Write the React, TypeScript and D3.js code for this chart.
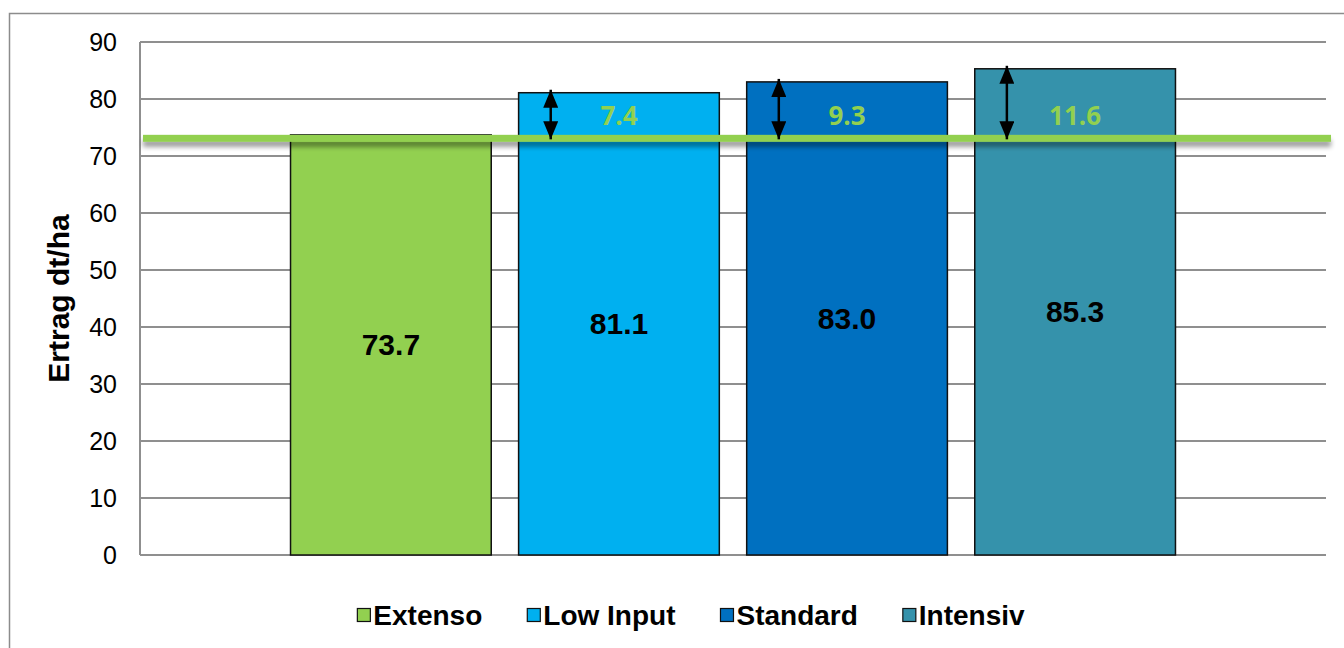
import { useEffect, useRef } from 'react';
import * as d3 from 'd3';

// series shown as bars (one category)
const seriesNames = ['Extenso', 'Low Input', 'Standard', 'Intensiv'];
const yieldValues = [73.7, 81.1, 83.0, 85.3];
const seriesColors = ['#92D050', '#00B0F0', '#0070C0', '#3592AB'];
// gain over Extenso, shown with arrows (null = no arrow)
const gainLabels = [null, '7.4', '9.3', '11.6'];
const referenceLevel = 73.1;
const yTicks = [0, 10, 20, 30, 40, 50, 60, 70, 80, 90];
const yTitle = 'Ertrag dt/ha';

const WIDTH = 1344;
const HEIGHT = 648;
const FONT = "'Liberation Sans', Arial, sans-serif";

export default function App() {
  const svgRef = useRef<SVGSVGElement>(null);

  useEffect(() => {
    if (!svgRef.current) return;
    const svg = d3.select(svgRef.current);
    svg.selectAll('*').remove();

    const plot = { left: 140, right: 1326, top: 42, bottom: 555 };

    const defs = svg.append('defs');
    const shadow = defs.append('filter').attr('id', 'lineShadow')
      .attr('x', '-2%').attr('y', '-100%').attr('width', '104%').attr('height', '400%');
    shadow.append('feGaussianBlur').attr('in', 'SourceAlpha').attr('stdDeviation', 2.5);
    shadow.append('feOffset').attr('dy', 5).attr('result', 'off');
    shadow.append('feComponentTransfer').append('feFuncA').attr('type', 'linear').attr('slope', 0.4);
    const merge = shadow.append('feMerge');
    merge.append('feMergeNode');
    merge.append('feMergeNode').attr('in', 'SourceGraphic');

    defs.append('marker').attr('id', 'arrowHead')
      .attr('viewBox', '0 0 10 10').attr('refX', 10).attr('refY', 5)
      .attr('markerWidth', 18).attr('markerHeight', 15).attr('markerUnits', 'userSpaceOnUse')
      .attr('orient', 'auto-start-reverse')
      .attr('preserveAspectRatio', 'none')
      .append('path').attr('d', 'M0,0 L10,5 L0,10 Z').attr('fill', '#000');

    // outer chart frame
    svg.append('rect')
      .attr('x', 9.5).attr('y', 13.5)
      .attr('width', WIDTH).attr('height', HEIGHT)
      .attr('fill', '#fff').attr('stroke', '#8c8c8c').attr('stroke-width', 1.5);

    const y = d3.scaleLinear().domain([0, 90]).range([plot.bottom, plot.top]);
    const x = d3.scaleBand<string>()
      .domain(seriesNames)
      .range([plot.left, plot.right])
      .paddingInner(0.12)
      .paddingOuter(0.66);

    // gridlines
    svg.append('g').selectAll('line')
      .data(yTicks)
      .join('line')
      .attr('x1', plot.left).attr('x2', plot.right)
      .attr('y1', d => y(d)).attr('y2', d => y(d))
      .attr('stroke', '#8f8f8f').attr('stroke-width', 2);

    svg.append('line')
      .attr('x1', plot.left).attr('x2', plot.left)
      .attr('y1', plot.top).attr('y2', plot.bottom)
      .attr('stroke', '#8f8f8f').attr('stroke-width', 2);

    svg.append('g').selectAll('text')
      .data(yTicks)
      .join('text')
      .attr('x', 117).attr('y', d => y(d))
      .attr('text-anchor', 'end').attr('dominant-baseline', 'central')
      .attr('font-family', FONT).attr('font-size', 25).attr('fill', '#000')
      .text(d => d);

    svg.append('text')
      .attr('transform', `translate(69,${(plot.top + plot.bottom) / 2}) rotate(-90)`)
      .attr('text-anchor', 'middle')
      .attr('font-family', FONT).attr('font-size', 30).attr('font-weight', 'bold')
      .text(yTitle);

    // bars
    const bars = svg.append('g');
    bars.selectAll('rect')
      .data(seriesNames)
      .join('rect')
      .attr('x', d => x(d)!)
      .attr('y', (_, i) => y(yieldValues[i]))
      .attr('width', x.bandwidth())
      .attr('height', (_, i) => plot.bottom - y(yieldValues[i]))
      .attr('fill', (_, i) => seriesColors[i])
      .attr('stroke', '#111').attr('stroke-width', 1.5);

    bars.selectAll('text')
      .data(seriesNames)
      .join('text')
      .attr('x', d => x(d)! + x.bandwidth() / 2)
      .attr('y', (_, i) => (y(yieldValues[i]) + plot.bottom) / 2)
      .attr('text-anchor', 'middle').attr('dominant-baseline', 'central')
      .attr('font-family', FONT).attr('font-size', 30).attr('font-weight', 'bold')
      .text((_, i) => yieldValues[i].toFixed(1));

    // reference line at Extenso level (drawn as a thin rect so the shadow filter has a box)
    const refY = y(referenceLevel);
    svg.append('rect')
      .attr('x', plot.left + 3).attr('width', plot.right + 5 - (plot.left + 3))
      .attr('y', refY - 3.5).attr('height', 7)
      .attr('fill', '#92D050')
      .attr('filter', 'url(#lineShadow)');

    // arrows + gain labels
    const gains = seriesNames
      .map((name, i) => ({ name, value: yieldValues[i], label: gainLabels[i] }))
      .filter(d => d.label !== null);

    svg.append('g').selectAll('line')
      .data(gains)
      .join('line')
      .attr('x1', d => x(d.name)! + x.bandwidth() * 0.16)
      .attr('x2', d => x(d.name)! + x.bandwidth() * 0.16)
      .attr('y1', d => y(d.value) - 3)
      .attr('y2', refY + 1)
      .attr('stroke', '#000').attr('stroke-width', 2.5)
      .attr('marker-start', 'url(#arrowHead)')
      .attr('marker-end', 'url(#arrowHead)');

    svg.append('g').selectAll('text')
      .data(gains)
      .join('text')
      .attr('x', d => x(d.name)! + x.bandwidth() / 2)
      .attr('y', refY - 23)
      .attr('text-anchor', 'middle').attr('dominant-baseline', 'central')
      .attr('font-family', "'Open Sans', Lato, sans-serif")
      .attr('font-size', 26).attr('font-weight', 'bold')
      .attr('fill', '#92D050')
      .text(d => d.label as string);

    // legend
    const legend = svg.append('g');
    const items = legend.selectAll('g')
      .data(seriesNames)
      .join('g');
    items.append('rect')
      .attr('width', 13).attr('height', 13)
      .attr('y', -6.5)
      .attr('fill', (_, i) => seriesColors[i])
      .attr('stroke', '#111').attr('stroke-width', 1.2);
    const labels = items.append('text')
      .attr('x', 16)
      .attr('dominant-baseline', 'central')
      .attr('font-family', FONT).attr('font-size', 28).attr('font-weight', 'bold')
      .text(d => d);

    const widths = labels.nodes().map(n => 16 + (n as SVGTextElement).getComputedTextLength());
    const gap = 45;
    const total = d3.sum(widths) + gap * (widths.length - 1);
    let cx = 691 - total / 2;
    items.each(function (_, i) {
      d3.select(this).attr('transform', `translate(${cx},615)`);
      cx += widths[i] + gap;
    });
  }, []);

  return (
    <svg
      ref={svgRef}
      width={WIDTH}
      height={HEIGHT}
      style={{ position: 'absolute', left: 0, top: 0, display: 'block', background: '#fff' }}
    />
  );
}
